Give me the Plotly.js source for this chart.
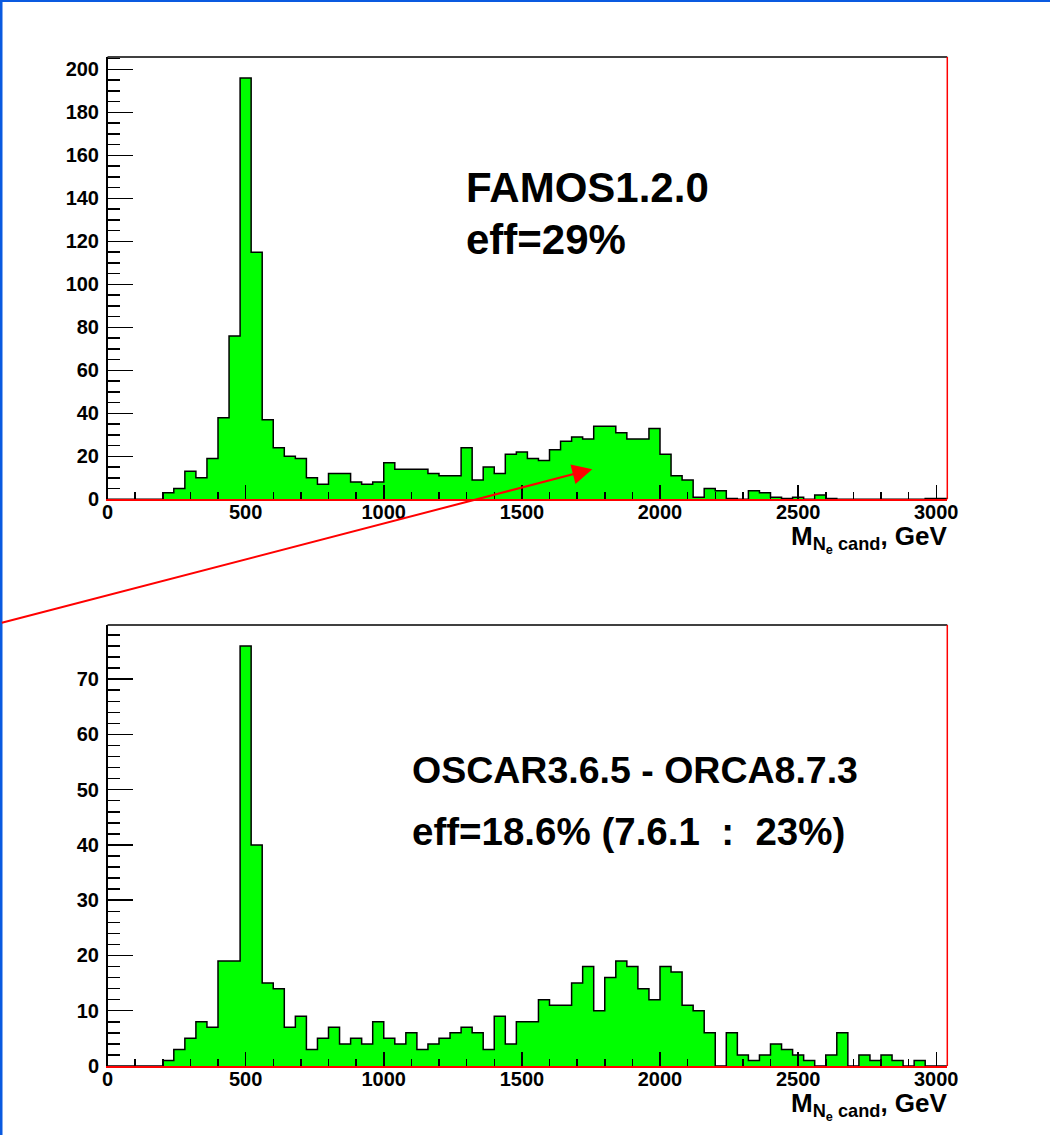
<!DOCTYPE html>
<html>
<head>
<meta charset="utf-8">
<script src="https://cdn.plot.ly/plotly-3.0.1.min.js"></script>
<style>
  html, body { margin: 0; padding: 0; background: #ffffff; }
  #chart { width: 1050px; height: 1135px; }
</style>
</head>
<body>
<div id="chart"></div>
<script>
// Reconstructed N_e candidate mass, 40 GeV bins from 0 to 3040 GeV
const binStart = 0;
const binWidth = 40;

// FAMOS 1.2.0 fast simulation
const famosCounts = [
  0, 0, 0, 0, 0, 3, 5, 13, 10, 19,
  38, 76, 196, 115, 37, 24, 20, 19, 10, 7,
  12, 12, 8, 7, 8, 17, 14, 14, 14, 12,
  11, 11, 24, 9, 15, 12, 21, 22, 19, 18,
  23, 27, 29, 28, 34, 34, 31, 28, 28, 33,
  21, 11, 9, 1, 5, 4, 0.4, 0, 4, 3,
  1, 0.4, 1, 0, 2, 0.4, 0, 0, 0, 0,
  0, 0, 0, 0, 0.4, 0.4
];

// OSCAR 3.6.5 + ORCA 8.7.3 full simulation
const oscarCounts = [
  0, 0, 0, 0, 0, 1, 3, 5, 8, 7,
  19, 19, 76, 40, 15, 14, 7, 9, 3, 5,
  7, 4, 5, 4, 8, 5, 4, 6, 3, 4,
  5, 6, 7, 6, 3, 9, 4, 8, 8, 12,
  11, 11, 15, 18, 10, 16, 19, 18, 14, 12,
  18, 17, 11, 10, 6, 0, 6, 2, 1, 2,
  4, 3, 2, 1, 0, 2, 6, 0, 2, 1,
  2, 1, 0, 1, 0, 0
];

const xTickValues = [0, 500, 1000, 1500, 2000, 2500, 3000];
const xTickLabels = ['0', '500', '1000', '1500', '2000', '2500', '3000'];
const famosLabel = ['FAMOS1.2.0', 'eff=29%'];
const oscarLabel = ['OSCAR3.6.5 - ORCA8.7.3',
                    'eff=18.6% (7.6.1\u00a0\u00a0:\u00a0\u00a023%)'];
const massTitle = 'M<sub>N<sub>e</sub> cand</sub>, GeV';
// arrow pointing at the high-mass bump of the FAMOS spectrum
const arrowTip = { mass: 1755, count: 14 };

const nBins = famosCounts.length;
const xMax = binStart + nBins * binWidth;

function stepTrace(counts, xa, ya) {
  const xs = [], ys = [];
  for (let i = 0; i < counts.length; i++) {
    xs.push(binStart + i * binWidth);
    ys.push(counts[i]);
  }
  xs.push(binStart + counts.length * binWidth);
  ys.push(counts[counts.length - 1]);
  return {
    type: 'scatter', mode: 'lines', x: xs, y: ys,
    xaxis: xa, yaxis: ya,
    line: { shape: 'hv', color: '#000000', width: 1.5 },
    fill: 'tozeroy', fillcolor: '#00ff00',
    hoverinfo: 'skip', showlegend: false
  };
}

const FONT = 'Liberation Sans, Arial, Helvetica, sans-serif';
const tickFont = { family: FONT, size: 20, color: '#000000', weight: 'bold' };

function xAxis(anchor) {
  return {
    anchor: anchor, domain: [107.5 / 1050, 947.3 / 1050],
    range: [0, xMax], fixedrange: true,
    tickmode: 'array', tickvals: xTickValues, ticktext: xTickLabels,
    ticks: 'inside', ticklen: 14, tickwidth: 1.5, tickcolor: '#000000',
    minor: { dtick: 100, tick0: 0, ticks: 'inside', ticklen: 7, tickwidth: 1.5, tickcolor: '#000000', showgrid: false },
    showline: true, linecolor: '#ff0000', linewidth: 1.5,
    showgrid: false, zeroline: false,
    tickfont: tickFont, ticklabelstandoff: -6
  };
}
function yAxis(anchor, dom, maxCount, major, minor) {
  return {
    anchor: anchor, domain: dom,
    range: [0, 1.05 * maxCount], fixedrange: true,
    tick0: 0, dtick: major,
    ticks: 'inside', ticklen: 25, tickwidth: 1.5, tickcolor: '#000000',
    minor: { dtick: minor, tick0: 0, ticks: 'inside', ticklen: 12, tickwidth: 1.5, tickcolor: '#000000', showgrid: false },
    showline: true, linecolor: '#000000', linewidth: 1.5,
    showgrid: false, zeroline: false,
    tickfont: tickFont, ticklabelstandoff: 3
  };
}

const data = [
  stepTrace(famosCounts, 'x', 'y'),
  stepTrace(oscarCounts, 'x2', 'y2')
];

function frameShapes(xr, yr) {
  return [
    { type: 'line', xref: xr + ' domain', yref: yr + ' domain', x0: 0, x1: 1, y0: 1, y1: 1,
      line: { color: '#000000', width: 1.5 } },
    { type: 'line', xref: xr + ' domain', yref: yr + ' domain', x0: 1, x1: 1, y0: 0, y1: 1,
      line: { color: '#ff0000', width: 1.5 } }
  ];
}

const bigFont = (s) => ({ family: FONT, size: s, color: '#000000', weight: 'bold' });
function label(text, x, y, size) {
  return { xref: 'paper', yref: 'paper', x: x, y: y, xanchor: 'left', yanchor: 'middle',
           text: text, showarrow: false, font: bigFont(size), borderpad: 0 };
}
function axisTitle(y) {
  return { xref: 'paper', yref: 'paper', x: 949 / 1050, y: y, xanchor: 'right', yanchor: 'middle',
           text: massTitle, showarrow: false, font: bigFont(26), borderpad: 0 };
}

const layout = {
  width: 1050, height: 1135,
  margin: { l: 0, r: 0, t: 0, b: 0 },
  paper_bgcolor: '#ffffff', plot_bgcolor: '#ffffff',
  showlegend: false,
  xaxis: xAxis('y'),
  yaxis: yAxis('x', [1 - 499.3 / 1135, 1 - 57 / 1135], Math.max(...famosCounts), 20, 5),
  xaxis2: xAxis('y2'),
  yaxis2: yAxis('x2', [1 - 1066 / 1135, 1 - 625 / 1135], Math.max(...oscarCounts), 10, 2),
  shapes: [
    ...frameShapes('x', 'y'),
    ...frameShapes('x2', 'y2'),
    { type: 'line', xref: 'paper', yref: 'paper', x0: 0, x1: 0, y0: 0, y1: 1,
      line: { color: '#0a5ae0', width: 5 } },
    { type: 'line', xref: 'paper', yref: 'paper', x0: 0, x1: 1, y0: 1, y1: 1,
      line: { color: '#0a5ae0', width: 4 } }
  ],
  annotations: [
    label(famosLabel[0], 465 / 1050, 1 - 187 / 1135, 42),
    label(famosLabel[1], 465 / 1050, 1 - 240 / 1135, 42),
    label(oscarLabel[0], 411 / 1050, 1 - 770 / 1135, 37.5),
    label(oscarLabel[1], 411 / 1050, 1 - 831 / 1135, 38.5),
    axisTitle(1 - 539 / 1135),
    axisTitle(1 - 1106 / 1135),
    { xref: 'x', yref: 'y', x: arrowTip.mass, y: arrowTip.count,
      axref: 'pixel', ayref: 'pixel', ax: -592, ay: 154,
      text: '', showarrow: true, arrowhead: 2, arrowsize: 2, arrowwidth: 2,
      arrowcolor: '#ff0000', standoff: 0, startstandoff: 0 }
  ]
};

Plotly.newPlot('chart', data, layout, { staticPlot: true, displayModeBar: false });
</script>
</body>
</html>
